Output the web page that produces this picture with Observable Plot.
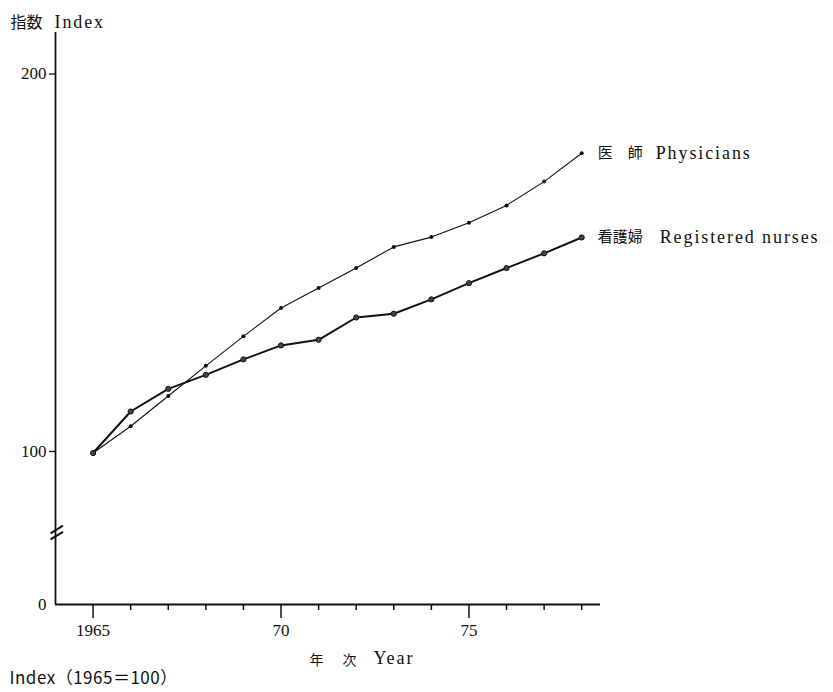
<!DOCTYPE html>
<html>
<head>
<meta charset="utf-8">
<script src="https://cdn.jsdelivr.net/npm/d3@7"></script>
<script src="https://cdn.jsdelivr.net/npm/@observablehq/plot@0.6"></script>
<style>
  html, body { margin: 0; padding: 0; background: #fff; }
  svg text { font-family: 'Liberation Serif', 'DejaVu Serif', 'Noto Sans CJK JP', serif; }
  svg text.latin { letter-spacing: 1.9px; }
  svg text.cjk { font-family: 'Noto Sans CJK JP', sans-serif; }
  svg text.sans { font-family: 'Noto Sans CJK JP', 'Noto Sans', sans-serif; letter-spacing: 0.5px; }
</style>
</head>
<body>
<div id="chart"></div>
<script>
const years = [1965, 1966, 1967, 1968, 1969, 1970, 1971, 1972, 1973, 1974, 1975, 1976, 1977, 1978];
const physicians = [99, 106.7, 114.7, 122.7, 130.5, 138.0, 143.3, 148.6, 154.2, 156.8, 160.6, 165.2, 171.5, 179.0];
const nurses = [99, 110.6, 116.6, 120.3, 124.4, 128.1, 129.6, 135.5, 136.5, 140.3, 144.6, 148.6, 152.5, 156.7];
const seriesCJK = ["医\u3000師", "看護婦"];
const seriesEN = ["Physicians", "Registered nurses"];
const yTicks = [100, 200];
const yZero = [0];
const xMajor = [1965, 1970, 1975];
const xMajorLabels = ["1965", "70", "75"];
const xMinor = years.filter(y => !xMajor.includes(y));
const titleCJK = "指数";
const titleEN = "Index";
const xTitleCJK = ["年", "次"];
const xTitleEN = "Year";
const caption = "Index\uFF081965\uFF1D100\uFF09";
const breakMarks = [
  {x1: 1963.87, y1: 46.5, x2: 1964.2, y2: 51.5},
  {x1: 1963.87, y1: 42.5, x2: 1964.2, y2: 47.5}
];

const phys = years.map((year, i) => ({year, value: physicians[i]}));
const nur = years.map((year, i) => ({year, value: nurses[i]}));
const last = years.length - 1;
const ends = [
  {year: years[last], value: physicians[last], cjk: seriesCJK[0], en: seriesEN[0]},
  {year: years[last], value: nurses[last], cjk: seriesCJK[1], en: seriesEN[1]}
];

const ink = "#111";

const chart = Plot.plot({
  width: 833,
  height: 692,
  marginLeft: 55,
  marginRight: 233,
  marginTop: 32,
  marginBottom: 88,
  style: {fontSize: "15px", color: ink, background: "#fff"},
  x: {domain: [1964, 1978.5], range: [55, 600]},
  y: {type: "linear", domain: [0, 100, 211], range: [604, 451, 32]},
  marks: [
    Plot.ruleX([1964], {y1: 0, y2: 211, stroke: ink, strokeWidth: 1.8}),
    Plot.ruleY([0], {x1: 1964, x2: 1978.5, stroke: ink, strokeWidth: 1.8}),
    Plot.link(breakMarks, {x1: "x1", y1: "y1", x2: "x2", y2: "y2", stroke: ink, strokeWidth: 2}),
    Plot.axisY(yTicks, {tickSize: 6, tickPadding: 3, fontSize: 17, label: null, stroke: ink, strokeWidth: 1.3}),
    Plot.axisY(yZero, {tickSize: 0, tickPadding: 9, fontSize: 17, label: null}),
    Plot.axisX(xMinor, {tickSize: 6, tickFormat: () => "", label: null, stroke: ink, strokeWidth: 1.5}),
    Plot.axisX(xMajor, {tickSize: 14, tickPadding: 5, fontSize: 17, label: null, stroke: ink, strokeWidth: 1.5,
      tickFormat: d => xMajorLabels[xMajor.indexOf(d)]}),
    Plot.line(phys, {x: "year", y: "value", stroke: ink, strokeWidth: 1.1}),
    Plot.dot(phys, {x: "year", y: "value", r: 2, fill: ink}),
    Plot.line(nur, {x: "year", y: "value", stroke: ink, strokeWidth: 2}),
    Plot.dot(nur, {x: "year", y: "value", r: 2.6, fill: "#444", stroke: ink, strokeWidth: 1}),
    Plot.text(ends, {x: "year", y: "value", text: "cjk", dx: 16, textAnchor: "start", fontSize: 15}),
    Plot.text(ends.slice(0, 1), {x: "year", y: "value", text: "en", dx: 74, textAnchor: "start", fontSize: 18}),
    Plot.text(ends.slice(1), {x: "year", y: "value", text: "en", dx: 78, textAnchor: "start", fontSize: 18}),
    Plot.text([titleCJK], {frameAnchor: "top-left", dx: -45, dy: -16, textAnchor: "start", fontSize: 16}),
    Plot.text([titleEN], {frameAnchor: "top-left", dx: -1, dy: -17, textAnchor: "start", fontSize: 18}),
    Plot.text([xTitleCJK[0]], {frameAnchor: "bottom-left", dx: 254, dy: 60, textAnchor: "start", fontSize: 14}),
    Plot.text([xTitleCJK[1]], {frameAnchor: "bottom-left", dx: 287, dy: 60, textAnchor: "start", fontSize: 14}),
    Plot.text([xTitleEN], {frameAnchor: "bottom-left", dx: 318, dy: 59, textAnchor: "start", fontSize: 18}),
    Plot.text([caption], {frameAnchor: "bottom-left", dx: -46, dy: 79, textAnchor: "start", fontSize: 17})
  ]
});
const enSet = new Set([...seriesEN, titleEN, xTitleEN]);
const cjkSet = new Set([...seriesCJK, titleCJK, ...xTitleCJK]);
chart.querySelectorAll("text").forEach(t => {
  const s = t.textContent;
  if (s === caption) t.setAttribute("class", "sans");
  else if (enSet.has(s)) t.setAttribute("class", "latin");
  else if (cjkSet.has(s)) t.setAttribute("class", "cjk");
});
document.getElementById("chart").appendChild(chart);
</script>
</body>
</html>
